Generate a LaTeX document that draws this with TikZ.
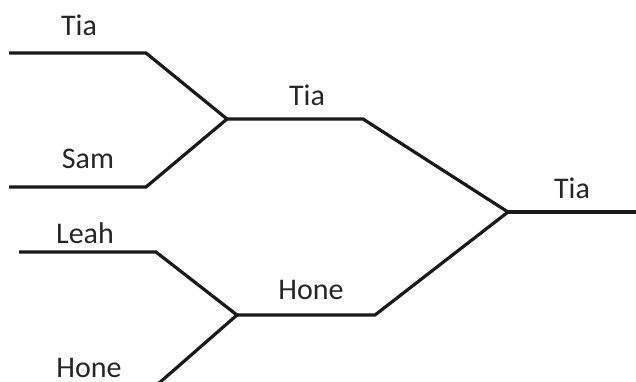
\documentclass[tikz,border=0pt]{standalone}
\usepackage{fontspec}
\setmainfont{Carlito}
\begin{document}
\begin{tikzpicture}[x=1pt,y=-1pt,
  bracket/.style={line width=3.2pt,color=black!90,line join=miter},
  name label/.style={anchor=base,inner sep=0pt,font=\fontsize{30}{30}\selectfont,text=black!85}]
\useasboundingbox (0,0) rectangle (636,381);
\clip (0,0) rectangle (636,381);
% round one entry lines
\coordinate (tiaL) at (9,53);
\coordinate (tiaK) at (146,53);
\coordinate (samL) at (9,187);
\coordinate (samK) at (146,187);
\coordinate (leahL) at (19,252);
\coordinate (leahK) at (156,252);
\coordinate (honeL) at (0,384);
\coordinate (honeK) at (158,384);
% semi-final lines
\coordinate (semiA) at (227,119);
\coordinate (semiAK) at (363,119);
\coordinate (semiB) at (237,315);
\coordinate (semiBK) at (375,315);
% final
\coordinate (final) at (508,212);
\coordinate (finalR) at (636,212);

\draw[bracket] (tiaL) -- (tiaK) -- (semiA);
\draw[bracket] (samL) -- (samK) -- (semiA);
\draw[bracket] (semiA) -- (semiAK) -- (final);
\draw[bracket] (leahL) -- (leahK) -- (semiB);
\draw[bracket] (honeL) -- (honeK) -- (semiB);
\draw[bracket] (semiB) -- (semiBK) -- (final);
\draw[bracket] (final) -- (finalR);

\node[name label] (t1) at (79,35) {Tia};
\node[name label] (s1) at (88,168) {Sam};
\node[name label] (l1) at (85,243) {Leah};
\node[name label] (h1) at (89,377) {Hone};
\node[name label] (t2) at (307,105) {Tia};
\node[name label] (h2) at (311,299) {Hone};
\node[name label] (t3) at (572,198) {Tia};
\end{tikzpicture}
\end{document}
